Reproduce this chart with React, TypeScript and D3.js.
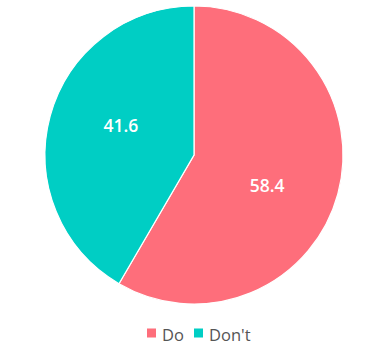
import React from "react";
import * as d3 from "d3";

const categories = ["Do", "Don't"];
const values = [58.4, 41.6];
const colors = ["#fe6e7b", "#00cec4"];

export default function App() {
  const W = 389, H = 351;
  const cx = 194, cy = 155, r = 149;
  const pie = d3.pie<number>().sort(null).startAngle(0).endAngle(2 * Math.PI);
  const arcs = pie(values);
  const arc = d3.arc<d3.PieArcDatum<number>>().innerRadius(0).outerRadius(r);
  const font = "'Open Sans', sans-serif";
  const legendX = [147, 194];
  return (
    <svg width={W} height={H} style={{ position: "absolute", left: 0, top: 0 }}>
      <g transform={`translate(${cx},${cy})`}>
        {arcs.map((a, i) => (
          <path key={i} d={arc(a) || ""} fill={colors[i]} stroke="#fff" strokeWidth={1.2} />
        ))}
        {arcs.map((a, i) => {
          const mid = (a.startAngle + a.endAngle) / 2 + (7 * Math.PI) / 180;
          const lr = 79;
          const x = lr * Math.sin(mid);
          const y = -lr * Math.cos(mid);
          return (
            <text key={i} x={x} y={y} textAnchor="middle" dominantBaseline="central"
              fill="#fff" fontFamily={font} fontSize={17.5} fontWeight={600}>
              {values[i].toFixed(1)}
            </text>
          );
        })}
      </g>
      {categories.map((c, i) => (
        <g key={c}>
          <rect x={legendX[i]} y={328.5} width={9} height={9} fill={colors[i]} />
          <text x={legendX[i] + 15} y={341} fill="#555" fontFamily={font} fontSize={16.5}>{c}</text>
        </g>
      ))}
    </svg>
  );
}
